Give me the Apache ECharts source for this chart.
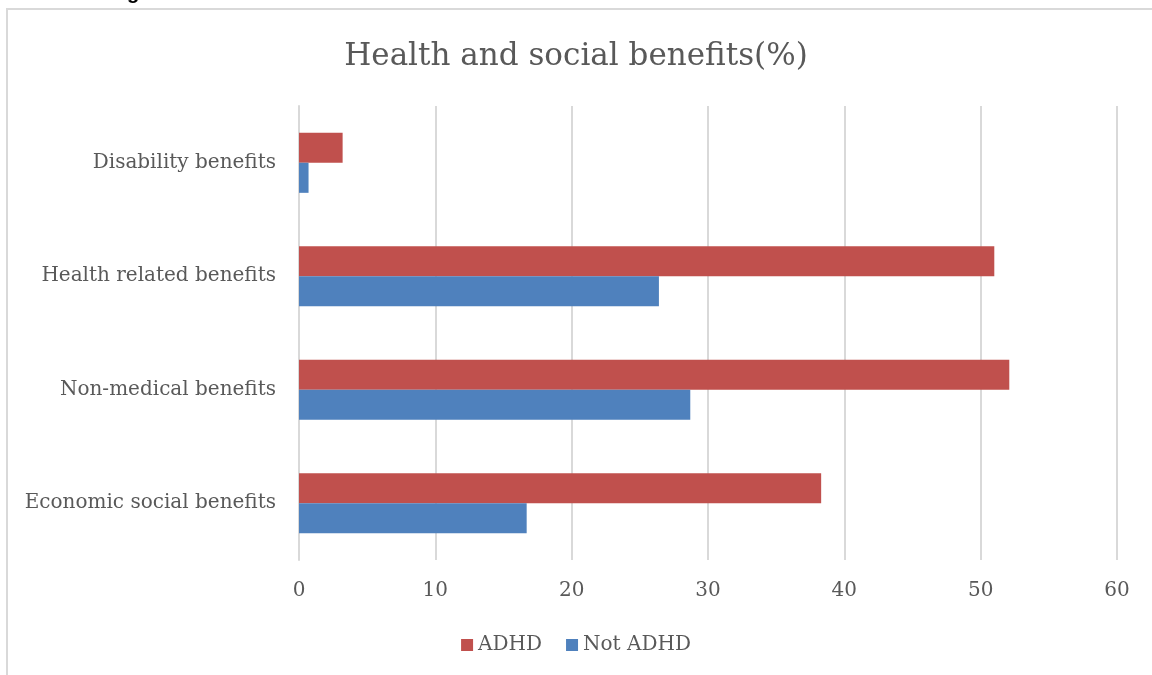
<!DOCTYPE html>
<html>
<head>
<meta charset="utf-8">
<script src="https://cdn.jsdelivr.net/npm/echarts@6/dist/echarts.min.js"></script>
<style>html,body{margin:0;padding:0;background:#fff}#c{width:1152px;height:675px}</style>
</head>
<body>
<div id="c"></div>
<script>
const categories = ["Economic social benefits", "Non-medical benefits", "Health related benefits", "Disability benefits"];
const adhd = [38.3, 52.1, 51.0, 3.2];
const notAdhd = [16.7, 28.7, 26.4, 0.7];
const seriesNames = ["ADHD", "Not ADHD"];
const titleText = "Health and social benefits(%)";

const FONT = "DejaVu Serif";
const chart = echarts.init(document.getElementById('c'), null, {renderer: 'canvas'});
chart.setOption({
  animation: false,
  backgroundColor: '#fff',
  title: {
    text: titleText, left: 'center', top: 36,
    textStyle: {fontFamily: FONT, fontSize: 31, fontWeight: 'normal', color: '#595959'}
  },
  legend: {
    data: seriesNames, bottom: 15, left: 'center',
    itemWidth: 12, itemHeight: 12, itemGap: 24, icon: 'rect',
    textStyle: {fontFamily: FONT, fontSize: 20, color: '#595959'}
  },
  grid: {left: 299, right: 35, top: 106, bottom: 115, containLabel: false},
  xAxis: {
    type: 'value', min: 0, max: 60, interval: 10,
    axisLine: {show: false}, axisTick: {show: false},
    axisLabel: {margin: 21, fontFamily: FONT, fontSize: 20, color: '#595959'},
    splitLine: {lineStyle: {color: '#D9D9D9', width: 2}}
  },
  yAxis: {
    type: 'category', data: categories,
    axisLine: {show: true, lineStyle: {color: '#D9D9D9', width: 2}},
    axisTick: {show: false},
    axisLabel: {margin: 23, fontFamily: FONT, fontSize: 20, color: '#595959'}
  },
  series: [
    {name: seriesNames[0], type: 'bar', data: adhd, itemStyle: {color: '#C0504D'},
     barGap: '0%', barCategoryGap: '47%'},
    {name: seriesNames[1], type: 'bar', data: notAdhd, itemStyle: {color: '#4F81BD'},
     barGap: '0%', barCategoryGap: '47%'}
  ],
  graphic: [
    {type: 'rect', silent: true,
     shape: {x: 7, y: 9, width: 1200, height: 700},
     style: {fill: 'none', stroke: '#D9D9D9', lineWidth: 2}},
    {type: 'text', x: 127, y: -17, silent: true,
     style: {text: 'g', font: 'bold 20px "Liberation Sans"', fill: '#000'}}
  ]
});
</script>
</body>
</html>
